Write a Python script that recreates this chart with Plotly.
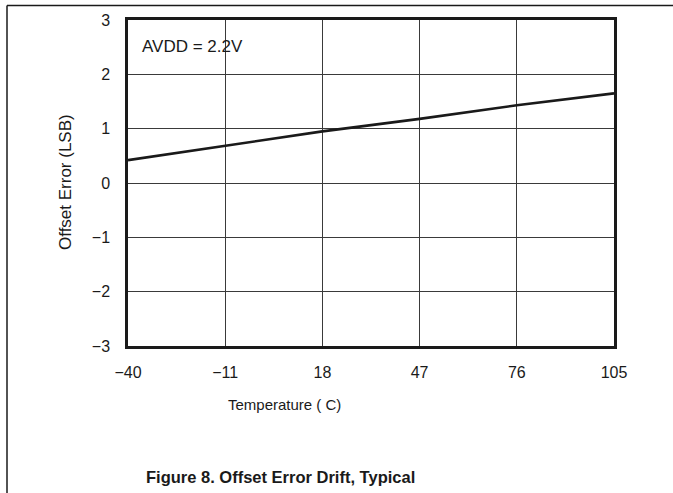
import plotly.graph_objects as go

temperature = [-40, -11, 18, 47, 76, 105]
offset_error = [0.42, 0.69, 0.95, 1.18, 1.43, 1.65]

x_ticks = [-40, -11, 18, 47, 76, 105]
x_ticktext = ["\u221240", "\u221211", "18", "47", "76", "105"]
y_ticks = [-3, -2, -1, 0, 1, 2, 3]
y_ticktext = ["\u22123", "\u22122", "\u22121", "0", "1", "2", "3"]

FONT = "Liberation Sans, Arial, sans-serif"
W, H = 673, 493
L, R, T, B = 128, 59, 18, 147
pw, ph = W - L - R, H - T - B

def px(x):
    return (x - L) / pw

def py(y):
    return (H - B - y) / ph

fig = go.Figure()
fig.add_trace(go.Scatter(x=temperature, y=offset_error, mode="lines",
                         line=dict(color="#1a1a1a", width=2.6), showlegend=False,
                         cliponaxis=False))

axis_common = dict(showline=True, linecolor="#1a1a1a", linewidth=2.5, mirror=True,
                   showgrid=True, gridcolor="#3a3a3a", gridwidth=1, zeroline=False,
                   ticks="", tickfont=dict(family=FONT, size=16, color="#1a1a1a"))

fig.update_xaxes(range=[-40, 105], tickvals=x_ticks, ticktext=x_ticktext,
                 ticklabelstandoff=10, **axis_common)
fig.update_yaxes(range=[-3, 3], tickvals=y_ticks, ticktext=y_ticktext,
                 ticklabelstandoff=12, **axis_common)

fig.add_annotation(text="AVDD = 2.2V", xref="paper", yref="paper", x=px(140), y=py(45),
                   xanchor="left", yanchor="middle", showarrow=False,
                   font=dict(family=FONT, size=17, color="#1a1a1a"))
fig.add_annotation(text="Temperature ( C)", xref="paper", yref="paper", x=px(284.5), y=py(405),
                   xanchor="center", yanchor="middle", showarrow=False,
                   font=dict(family=FONT, size=15, color="#1a1a1a"))
fig.add_annotation(text="Offset Error (LSB)", xref="paper", yref="paper", x=px(65), y=py(181),
                   xanchor="center", yanchor="middle", showarrow=False, textangle=-90,
                   font=dict(family=FONT, size=17, color="#1a1a1a"))
fig.add_annotation(text="<b>Figure 8. Offset Error Drift, Typical</b>", xref="paper", yref="paper",
                   x=px(280), y=py(478), xanchor="center", yanchor="middle", showarrow=False,
                   font=dict(family=FONT, size=16.5, color="#1a1a1a"))

# page frame lines (top and left)
fig.add_shape(type="line", xref="paper", yref="paper", x0=px(7), x1=px(690), y0=py(3.5), y1=py(3.5),
              line=dict(color="#1a1a1a", width=1.5))
fig.add_shape(type="line", xref="paper", yref="paper", x0=px(7), x1=px(7), y0=py(3.5), y1=py(510),
              line=dict(color="#1a1a1a", width=1.5))

fig.update_layout(width=W, height=H, margin=dict(l=L, r=R, t=T, b=B),
                  paper_bgcolor="white", plot_bgcolor="white",
                  font=dict(family=FONT, color="#1a1a1a"))

fig.write_html("out.html", config={"displayModeBar": False},
               post_script="document.body.style.margin='0';document.body.style.overflow='hidden';")
